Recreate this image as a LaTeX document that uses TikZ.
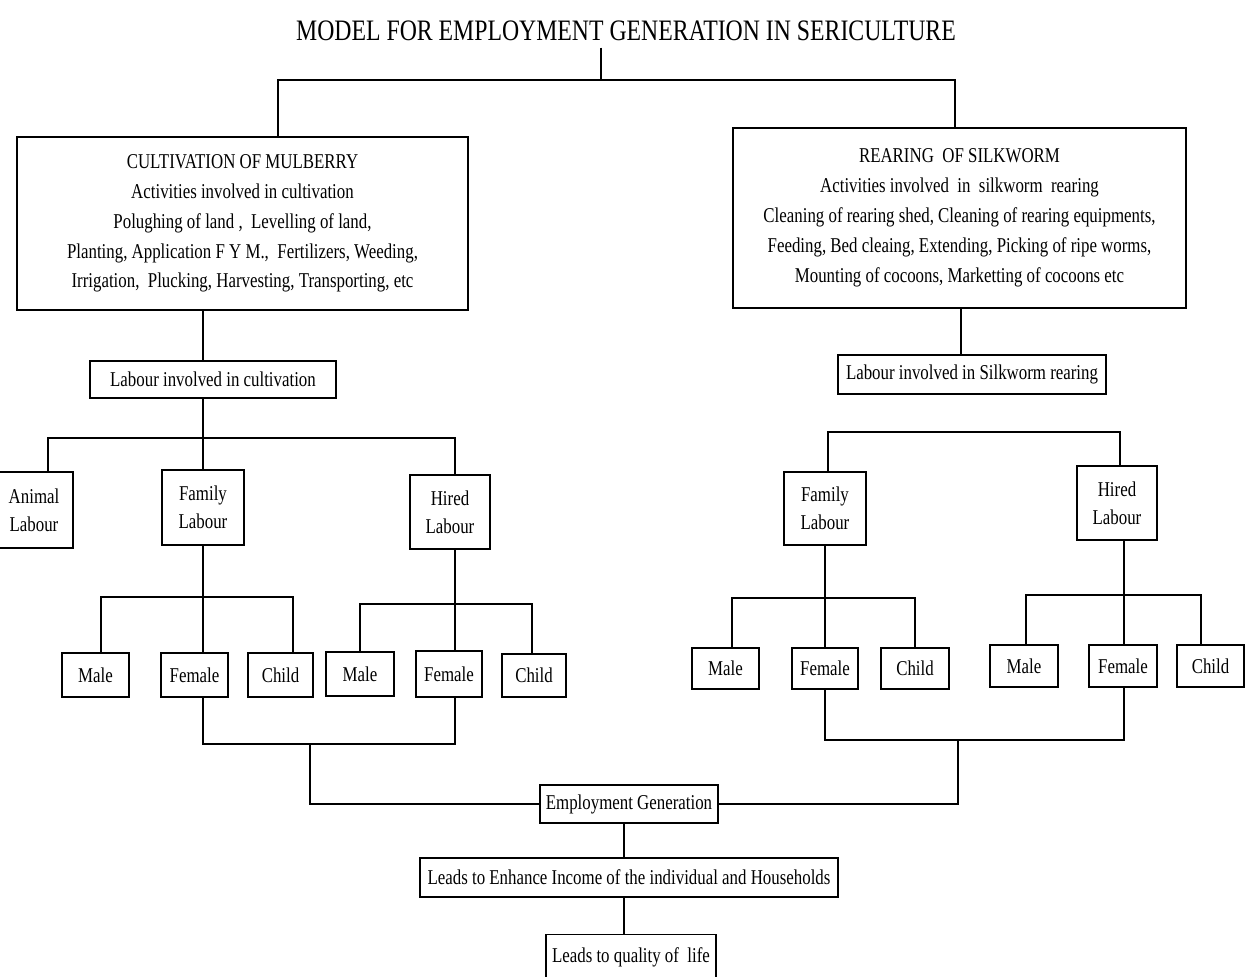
\documentclass[tikz,border=0pt]{standalone}
\usepackage{fontspec}
\setmainfont{Liberation Serif}[FakeStretch=0.8]
\begin{document}
\begin{tikzpicture}[x=0.02cm,y=-0.02cm,line width=1pt,
  box/.style={draw,line width=1pt,align=center,inner sep=0pt,font=\fontsize{12}{16}\selectfont},
  sz/.style 2 args={minimum width=#1*0.02cm,minimum height=#2*0.02cm},
  big/.style={font=\fontsize{12}{17}\selectfont}]
\useasboundingbox[fill=white] (0,0) rectangle (1252,977);
% title
\node[font=\fontsize{16.9}{20}\selectfont] (title) at (626,31) {MODEL FOR EMPLOYMENT GENERATION IN SERICULTURE};
% main boxes
\node[box,big,sz={451}{173}] (cult) at (242.5,223.5) {CULTIVATION OF MULBERRY\\Activities involved in cultivation\\Polughing of land ,\ \ Levelling of land,\\Planting, Application F Y M.,\ \ Fertilizers, Weeding,\\Irrigation,\ \ Plucking, Harvesting, Transporting, etc};
\node[box,big,sz={453}{180}] (rear) at (959.5,218) {REARING\ \ OF SILKWORM\\Activities involved\ \ in\ \ silkworm\ \ rearing\\Cleaning of rearing shed, Cleaning of rearing equipments,\\Feeding, Bed cleaing, Extending, Picking of ripe worms,\\Mounting of cocoons, Marketting of cocoons etc};
% labour boxes
\node[box,sz={246}{37}] (lcult) at (213,379.5) {Labour involved in cultivation};
\node[box,sz={268}{39}] (lrear) at (972,374.5) {Labour involved in Silkworm rearing};
% left tree
\node[box,sz={78}{76}] (animal) at (34,510) {Animal\\Labour};
\node[box,sz={82}{75}] (famL) at (203,507.5) {Family\\Labour};
\node[box,sz={80}{74}] (hirL) at (450,512) {Hired\\Labour};
\node[box,sz={67}{44}] (m1) at (95.5,675) {Male};
\node[box,sz={67}{44}] (f1) at (194.5,675) {Female};
\node[box,sz={65}{44}] (c1) at (280.5,675) {Child};
\node[box,sz={68}{44}] (m2) at (360,674) {Male};
\node[box,sz={66}{46}] (f2) at (449,674) {Female};
\node[box,sz={64}{43}] (c2) at (534,675.5) {Child};
% right tree
\node[box,sz={82}{73}] (famR) at (825,508.5) {Family\\Labour};
\node[box,sz={80}{74}] (hirR) at (1117,503) {Hired\\Labour};
\node[box,sz={67}{41}] (m3) at (725.5,668.5) {Male};
\node[box,sz={66}{41}] (f3) at (825,668.5) {Female};
\node[box,sz={68}{41}] (c3) at (915,668.5) {Child};
\node[box,sz={68}{42}] (m4) at (1024,666) {Male};
\node[box,sz={68}{42}] (f4) at (1123,666) {Female};
\node[box,sz={67}{42}] (c4) at (1210.5,666) {Child};
% bottom
\node[box,sz={178}{38}] (emp) at (629,804) {Employment Generation};
\node[box,sz={418}{39}] (inc) at (629,877.5) {Leads to Enhance Income of the individual and Households};
\node[box,sz={170}{45}] (qual) at (631,957) {Leads to quality of\ \ life};
% connectors top
\coordinate (s0) at (601,80);
\draw (s0 |- title.south) -- (s0);
\draw (cult.north -| 278,0) |- (s0) -| (rear.north -| 955,0);
% left
\coordinate (s1) at (203,438);
\draw (cult.south -| 203,0) -- (lcult.north -| 203,0);
\draw (lcult.south -| 203,0) -- (famL.north);
\draw (animal.north -| 48,0) |- (s1) -| (hirL.north -| 455,0);
\coordinate (s2) at (203,597);
\draw (famL.south) -- (f1.north -| 203,0);
\draw (m1.north -| 101,0) |- (s2) -| (c1.north -| 293,0);
\coordinate (s3) at (455,604);
\draw (hirL.south -| 455,0) -- (f2.north -| 455,0);
\draw (m2.north -| 360,0) |- (s3) -| (c2.north -| 532,0);
\coordinate (jL) at (310,744);
\draw (f1.south -| 203,0) |- (jL) -| (f2.south -| 455,0);
\draw (jL) |- (emp.west);
% right
\draw (rear.south -| 961,0) -- (lrear.north -| 961,0);
\coordinate (s4) at (1120,432);
\draw (famR.north -| 828,0) |- (s4) -- (hirR.north -| 1120,0);
\coordinate (s5) at (825,598);
\draw (famR.south) -- (f3.north);
\draw (m3.north -| 732,0) |- (s5) -| (c3.north -| 915,0);
\coordinate (s6) at (1124,595);
\draw (hirR.south -| 1124,0) -- (f4.north -| 1124,0);
\draw (m4.north -| 1026,0) |- (s6) -| (c4.north -| 1201,0);
\coordinate (jR) at (958,740);
\draw (f3.south) |- (jR) -| (f4.south -| 1124,0);
\draw (jR) |- (emp.east);
% bottom
\draw (emp.south -| 624,0) -- (inc.north -| 624,0);
\draw (inc.south -| 624,0) -- (qual.north -| 624,0);
\end{tikzpicture}
\end{document}
